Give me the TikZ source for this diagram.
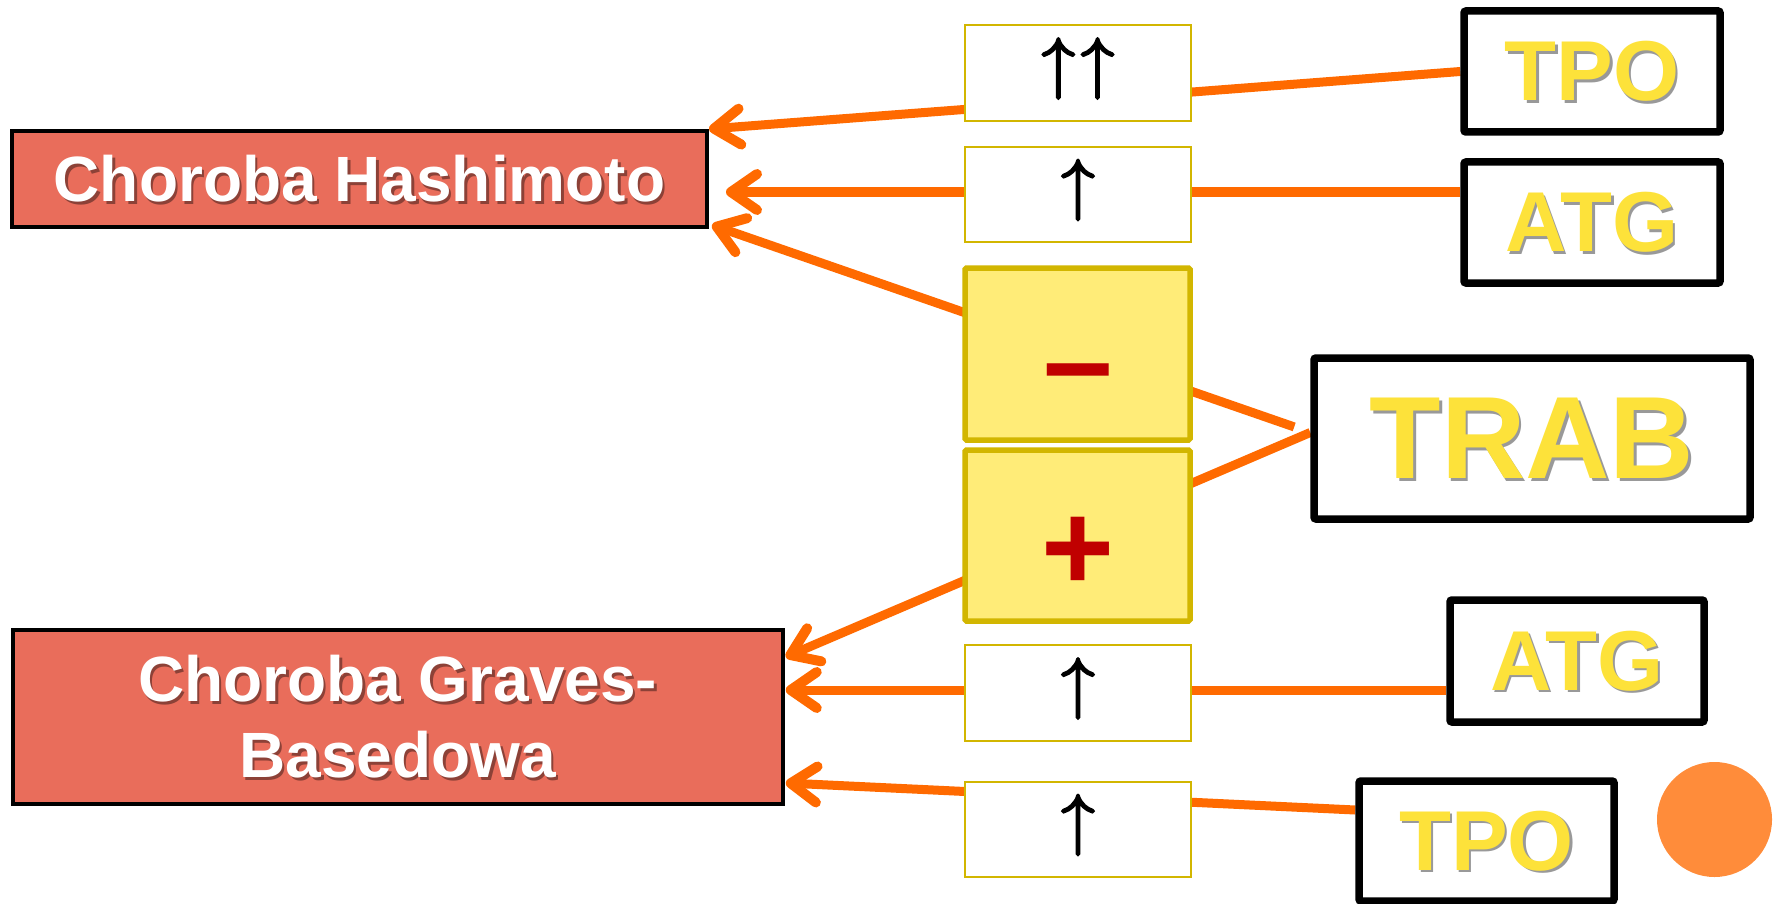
\documentclass[tikz,border=0pt]{standalone}
\usepackage{fontspec}
\setmainfont{Liberation Sans}
\newfontfamily\arrowfont{latinmodern-math.otf}[FakeBold=3]
\usetikzlibrary{arrows.meta,calc}
\pgfdeclarelayer{paper}
\pgfdeclarelayer{links}
\pgfsetlayers{paper,links,main}

\definecolor{salmon}{HTML}{E96D5B}
\definecolor{abyellow}{HTML}{FDE23A}
\definecolor{boxgold}{HTML}{D2B600}
\definecolor{signfill}{HTML}{FFEC78}
\definecolor{signred}{HTML}{C00000}
\definecolor{linkorange}{HTML}{FF6A00}
\definecolor{dotorange}{HTML}{FF8C3A}

% text with a soft drop shadow behind it
\newcommand{\shadowed}[2]{\leavevmode\rlap{\kern2.5pt\smash{\raisebox{-2.5pt}{\color{#1}#2}}}#2}

\tikzset{
  disease/.style={draw=black, line width=4pt, fill=salmon, inner sep=0pt,
    text=white, font=\fontsize{64}{76}\selectfont\bfseries, align=center},
  antibody/.style={draw=black, line width=7.5pt, fill=white, inner sep=0pt,
    rounded corners=2pt, text=abyellow, font=\fontsize{85}{90}\selectfont\bfseries},
  levelbox/.style={draw=boxgold, line width=2.2pt, fill=white, inner sep=0pt,
    minimum width=226pt, minimum height=96pt},
  signbox/.style={draw=boxgold, line width=5.5pt, fill=signfill, inner sep=0pt,
    rounded corners=1.5pt, minimum width=225pt, minimum height=172pt},
  arrowglyph/.style={inner sep=0pt, text=black, font=\arrowfont\fontsize{68.5}{70}\selectfont},
  signglyph/.style={inner sep=0pt, text=signred, font=\fontsize{125}{125}\selectfont\bfseries},
  link/.style={draw=linkorange, line width=9pt,
    -{Straight Barb[length=26pt,width=36pt,line width=10pt,round]}},
}

\begin{document}
\begin{tikzpicture}[x=1pt,y=-1pt]
\begin{pgfonlayer}{paper}
\fill[white] (0,0) rectangle (1776,904);
\end{pgfonlayer}
\useasboundingbox (0,0) rectangle (1776,904);

% diseases
\node[disease, minimum width=695pt, minimum height=96pt] (hash) at (359.5,179)
  {\shadowed{salmon!60!black}{Choroba Hashimoto}};
\node[disease, minimum width=770pt, minimum height=174pt] (graves) at (397.75,717)
  {\shadowed{salmon!60!black}{Choroba Graves-}\\\shadowed{salmon!60!black}{Basedowa}};

% antibodies
\node[antibody, minimum width=256pt, minimum height=121pt] (tpoA) at (1592,71.5)
  {\shadowed{black!40}{TPO}};
\node[antibody, minimum width=256pt, minimum height=121pt] (atgA) at (1592,222.5)
  {\shadowed{black!40}{ATG}};
\node[antibody, minimum width=436pt, minimum height=161pt,
  font=\fontsize{117}{120}\selectfont\bfseries] (trab) at (1532,438.5)
  {\shadowed{black!40}{TRAB}};
\node[antibody, minimum width=254pt, minimum height=122pt] (atgB) at (1577,661)
  {\shadowed{black!40}{ATG}};
\node[antibody, minimum width=255pt, minimum height=120pt] (tpoB) at (1486.5,841)
  {\shadowed{black!40}{TPO}};

% level boxes
\node[levelbox] (lvA) at (1078,73) {};
\node[levelbox, minimum height=95pt] (lvB) at (1078,194.5) {};
\node[signbox] (neg) at (1077.5,354) {};
\node[signbox, minimum height=171pt] (pos) at (1077.5,535.5) {};
\node[levelbox] (lvC) at (1078,693) {};
\node[levelbox, minimum height=95pt] (lvD) at (1078,829.5) {};

\node[arrowglyph] (lvAt) at ([yshift=4.5pt]lvA.center) {↑\hspace{5pt}↑};
\node[arrowglyph] (lvBt) at ([yshift=4.5pt]lvB.center) {↑};
\node[arrowglyph] (lvCt) at ([yshift=4.5pt]lvC.center) {↑};
\node[arrowglyph] (lvDt) at ([yshift=4.5pt]lvD.center) {↑};
\node[signglyph] (negt) at (1078,384) {–};
\node[signglyph] (post) at (1078,554) {+};

\node[circle, fill=dotorange, minimum size=115pt, inner sep=0pt] (dot) at (1714.5,819.5) {};

% connectors, drawn underneath the boxes
\coordinate (trabin) at ($(trab.west)+(0,-6)$);
\coordinate (atgAin) at ($(atgA.west)+(0,-30.5)$);
\coordinate (atgBin) at ($(atgB.west)+(0,29)$);
\coordinate (tpoBin) at ($(tpoB.west)+(0,-31)$);
\begin{pgfonlayer}{links}
\draw[link] (tpoA.west) -- (hash.north east);
\draw[link] (atgAin) -- ($(hash.east |- atgAin)+(17,0)$);
\draw[link, shorten <=17pt] (trabin) -- ($(hash.south east)+(3,-4)$);
\draw[link] (trabin) -- ($(graves.north east)+(1,29)$);
\draw[link] (atgBin) -- ($(graves.east |- atgBin)+(1,0)$);
\draw[link] (tpoBin) -- ($(graves.south east)+(1,-23)$);
\end{pgfonlayer}
\end{tikzpicture}
\end{document}
